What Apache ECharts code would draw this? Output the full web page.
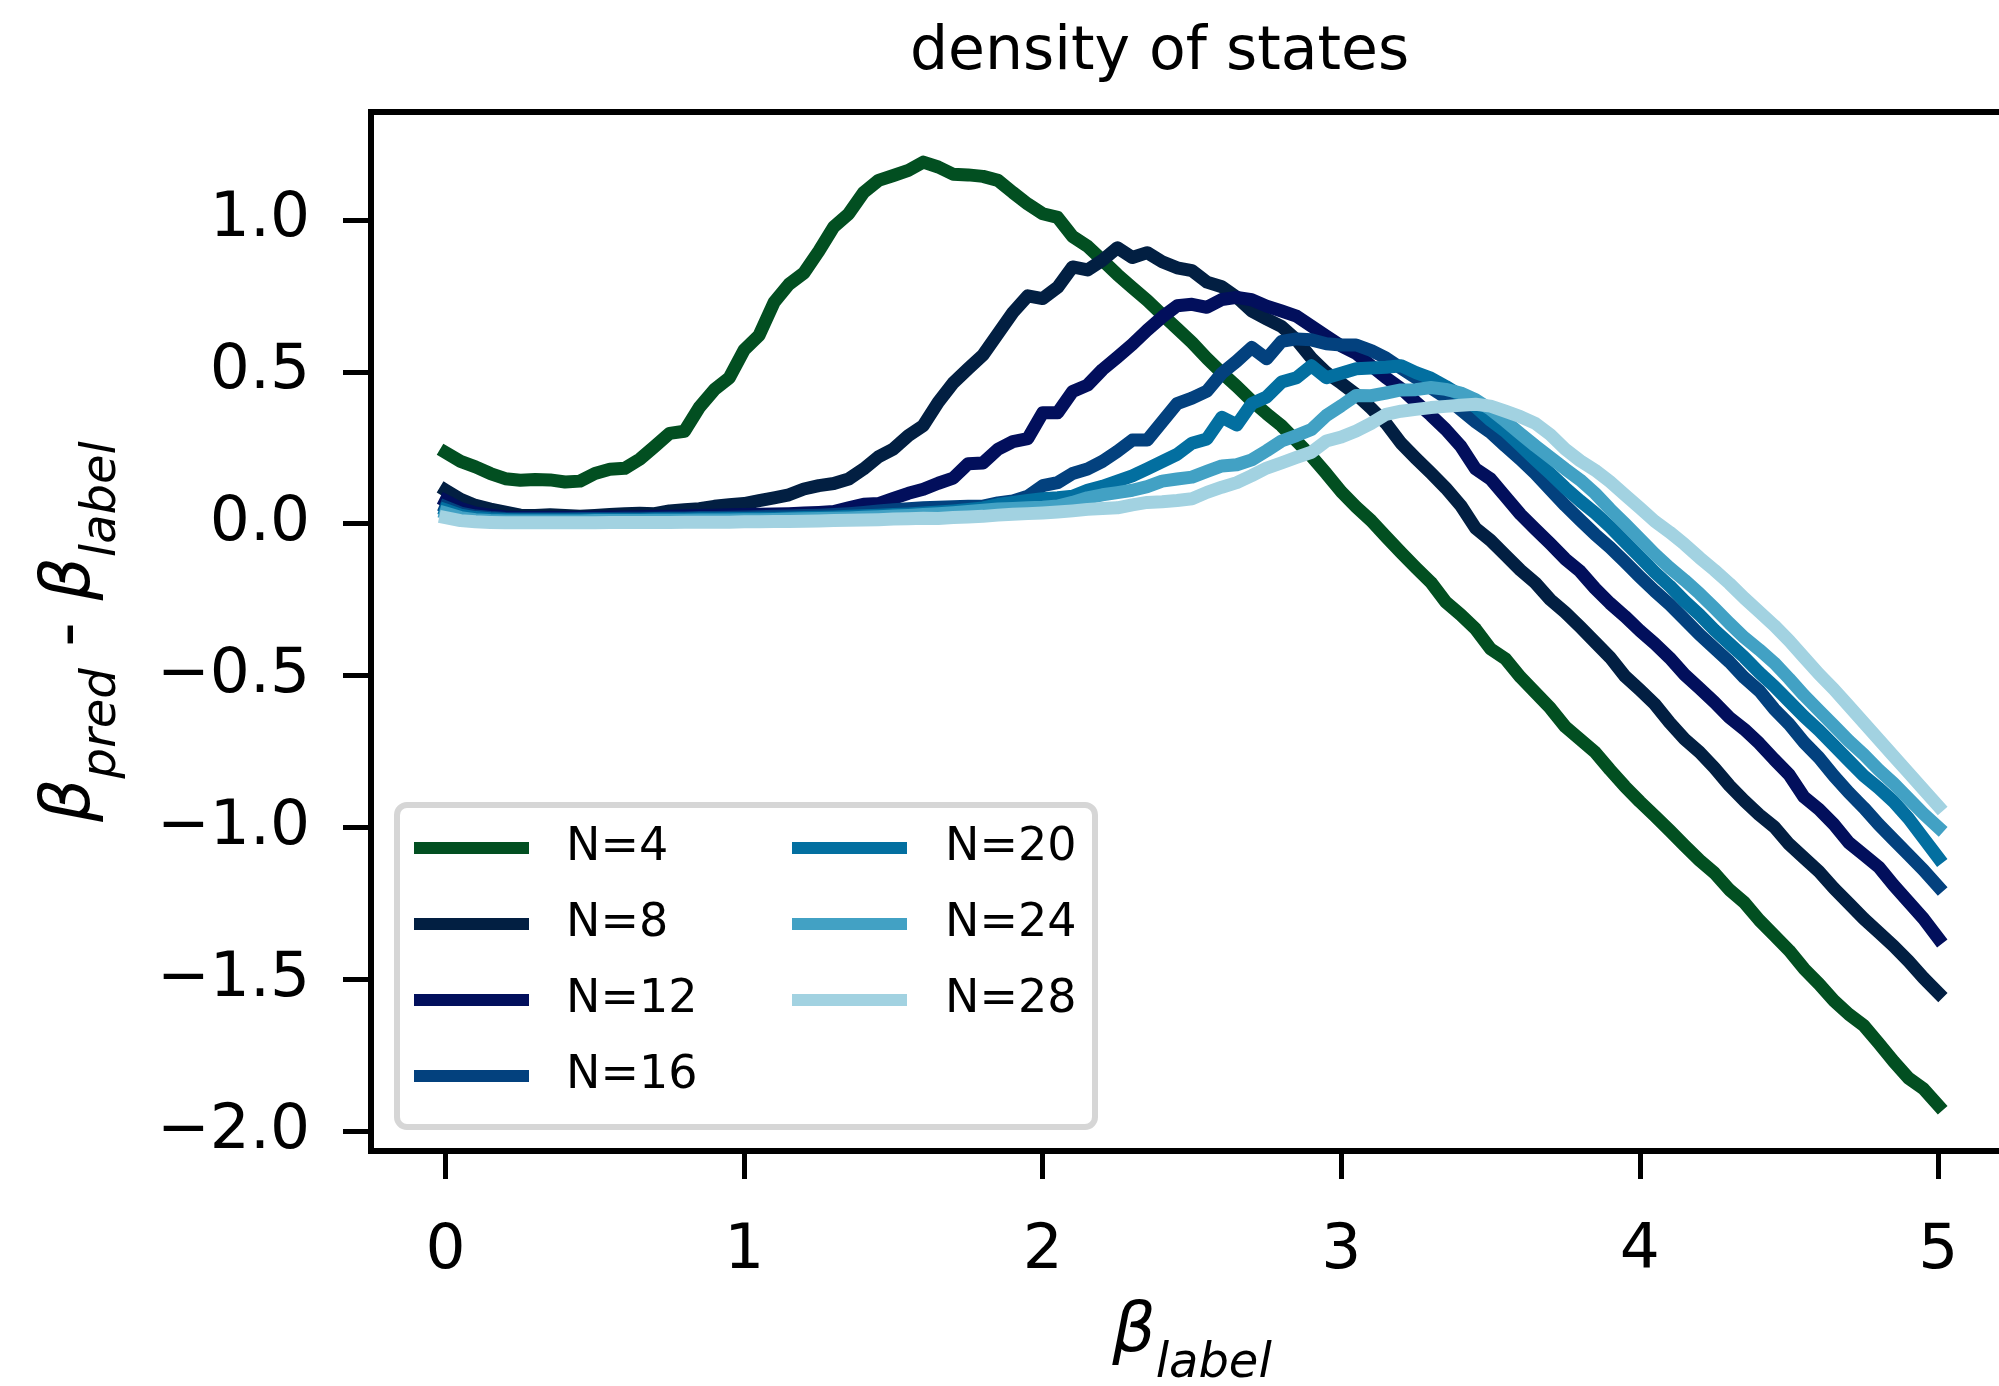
<!DOCTYPE html>
<html>
<head>
<meta charset="utf-8">
<script src="https://cdn.jsdelivr.net/npm/echarts@6/dist/echarts.min.js"></script>
<style>
html,body{margin:0;padding:0;background:#ffffff;}
#chart{width:1999px;height:1386px;}
</style>
</head>
<body>
<div id="chart"></div>
<script>
// ---------------- data ----------------
const betaLabel = [
  0.00,0.05,0.10,0.15,0.20,0.25,0.30,0.35,0.40,0.45,
  0.50,0.55,0.60,0.65,0.70,0.75,0.80,0.85,0.90,0.95,
  1.00,1.05,1.10,1.15,1.20,1.25,1.30,1.35,1.40,1.45,
  1.50,1.55,1.60,1.65,1.70,1.75,1.80,1.85,1.90,1.95,
  2.00,2.05,2.10,2.15,2.20,2.25,2.30,2.35,2.40,2.45,
  2.50,2.55,2.60,2.65,2.70,2.75,2.80,2.85,2.90,2.95,
  3.00,3.05,3.10,3.15,3.20,3.25,3.30,3.35,3.40,3.45,
  3.50,3.55,3.60,3.65,3.70,3.75,3.80,3.85,3.90,3.95,
  4.00,4.05,4.10,4.15,4.20,4.25,4.30,4.35,4.40,4.45,
  4.50,4.55,4.60,4.65,4.70,4.75,4.80,4.85,4.90,4.95,
  5.00
];

const n4 = [
  0.234,0.205,0.187,0.165,0.148,0.143,0.145,0.144,0.137,0.140,
  0.165,0.179,0.182,0.212,0.254,0.297,0.304,0.383,0.441,0.480,
  0.572,0.620,0.728,0.788,0.825,0.897,0.977,1.020,1.090,1.130,
  1.146,1.163,1.190,1.174,1.150,1.148,1.143,1.130,1.090,1.052,
  1.020,1.008,0.945,0.913,0.867,0.820,0.777,0.735,0.688,0.642,
  0.596,0.544,0.496,0.452,0.404,0.362,0.322,0.272,0.222,0.165,
  0.105,0.055,0.010,-0.043,-0.095,-0.145,-0.193,-0.258,-0.300,-0.347,
  -0.412,-0.445,-0.505,-0.556,-0.607,-0.668,-0.710,-0.752,-0.810,-0.865,
  -0.915,-0.962,-1.010,-1.060,-1.108,-1.150,-1.205,-1.247,-1.305,-1.355,
  -1.405,-1.465,-1.515,-1.570,-1.615,-1.652,-1.710,-1.770,-1.825,-1.860,
  -1.915
];

const n8 = [
  0.110,0.080,0.060,0.048,0.038,0.028,0.027,0.029,0.027,0.024,
  0.027,0.030,0.033,0.034,0.033,0.042,0.046,0.049,0.057,0.062,
  0.066,0.076,0.085,0.095,0.114,0.125,0.132,0.147,0.180,0.220,
  0.246,0.290,0.323,0.400,0.463,0.510,0.555,0.625,0.695,0.750,
  0.741,0.778,0.845,0.835,0.867,0.908,0.876,0.892,0.862,0.842,
  0.833,0.795,0.780,0.745,0.700,0.674,0.649,0.605,0.545,0.497,
  0.462,0.425,0.380,0.330,0.265,0.215,0.167,0.117,0.060,-0.015,
  -0.055,-0.104,-0.153,-0.195,-0.250,-0.292,-0.340,-0.390,-0.440,-0.502,
  -0.547,-0.594,-0.655,-0.709,-0.752,-0.804,-0.862,-0.912,-0.958,-0.998,
  -1.055,-1.100,-1.145,-1.200,-1.250,-1.300,-1.345,-1.390,-1.440,-1.495,
  -1.545
];

const n12 = [
  0.075,0.050,0.035,0.028,0.022,0.020,0.020,0.020,0.020,0.020,
  0.021,0.022,0.022,0.023,0.024,0.024,0.026,0.027,0.028,0.029,
  0.030,0.031,0.032,0.033,0.035,0.037,0.040,0.052,0.064,0.066,
  0.083,0.100,0.113,0.133,0.150,0.197,0.200,0.245,0.270,0.280,
  0.365,0.365,0.435,0.456,0.507,0.548,0.590,0.637,0.680,0.717,
  0.722,0.712,0.738,0.745,0.737,0.716,0.700,0.683,0.650,0.617,
  0.585,0.560,0.520,0.480,0.445,0.400,0.357,0.310,0.255,0.180,
  0.147,0.089,0.031,-0.018,-0.066,-0.116,-0.157,-0.213,-0.262,-0.305,
  -0.352,-0.395,-0.442,-0.497,-0.542,-0.588,-0.638,-0.677,-0.723,-0.776,
  -0.826,-0.900,-0.940,-0.990,-1.050,-1.090,-1.130,-1.190,-1.245,-1.300,
  -1.365
];

const n16 = [
  0.055,0.035,0.025,0.020,0.017,0.016,0.016,0.016,0.016,0.017,
  0.017,0.017,0.018,0.018,0.018,0.019,0.019,0.020,0.020,0.021,
  0.022,0.023,0.024,0.025,0.027,0.028,0.030,0.033,0.037,0.042,
  0.046,0.049,0.052,0.054,0.056,0.057,0.058,0.068,0.075,0.090,
  0.125,0.135,0.165,0.180,0.205,0.238,0.275,0.275,0.335,0.395,
  0.413,0.436,0.495,0.535,0.580,0.543,0.600,0.608,0.605,0.592,
  0.588,0.588,0.570,0.545,0.512,0.480,0.447,0.415,0.375,0.335,
  0.300,0.255,0.212,0.165,0.112,0.060,0.012,-0.035,-0.078,-0.126,
  -0.175,-0.222,-0.266,-0.315,-0.365,-0.410,-0.455,-0.507,-0.550,-0.610,
  -0.660,-0.720,-0.770,-0.830,-0.885,-0.935,-0.990,-1.040,-1.090,-1.140,
  -1.195
];

const n20 = [
  0.045,0.028,0.020,0.016,0.014,0.013,0.013,0.013,0.013,0.013,
  0.014,0.014,0.014,0.014,0.015,0.015,0.015,0.016,0.016,0.017,
  0.017,0.018,0.018,0.019,0.020,0.021,0.022,0.024,0.026,0.028,
  0.030,0.032,0.035,0.038,0.042,0.047,0.052,0.063,0.070,0.076,
  0.082,0.085,0.090,0.110,0.123,0.140,0.157,0.180,0.204,0.228,
  0.265,0.279,0.350,0.325,0.395,0.417,0.466,0.480,0.520,0.480,
  0.495,0.510,0.512,0.515,0.520,0.497,0.479,0.452,0.422,0.384,
  0.340,0.303,0.257,0.210,0.165,0.118,0.075,0.035,-0.010,-0.060,
  -0.110,-0.160,-0.205,-0.255,-0.300,-0.350,-0.395,-0.440,-0.490,-0.535,
  -0.585,-0.635,-0.680,-0.730,-0.780,-0.830,-0.870,-0.915,-0.970,-1.035,
  -1.100
];

const n24 = [
  0.035,0.020,0.013,0.010,0.009,0.009,0.009,0.009,0.009,0.009,
  0.010,0.010,0.010,0.010,0.011,0.011,0.011,0.012,0.012,0.012,
  0.013,0.013,0.014,0.015,0.016,0.017,0.018,0.019,0.021,0.023,
  0.025,0.027,0.030,0.033,0.036,0.040,0.044,0.048,0.050,0.052,
  0.054,0.058,0.070,0.085,0.095,0.102,0.110,0.122,0.140,0.147,
  0.153,0.172,0.190,0.194,0.210,0.240,0.272,0.290,0.310,0.356,
  0.388,0.422,0.421,0.430,0.440,0.441,0.448,0.442,0.430,0.408,
  0.376,0.337,0.296,0.256,0.218,0.180,0.144,0.100,0.048,0.000,
  -0.050,-0.100,-0.145,-0.186,-0.230,-0.278,-0.328,-0.375,-0.415,-0.458,
  -0.510,-0.565,-0.615,-0.665,-0.715,-0.760,-0.810,-0.855,-0.905,-0.955,
  -1.000
];

const n28 = [
  0.020,0.010,0.006,0.004,0.003,0.003,0.003,0.003,0.003,0.003,
  0.003,0.004,0.004,0.004,0.004,0.004,0.005,0.005,0.005,0.005,
  0.006,0.006,0.007,0.007,0.008,0.009,0.010,0.011,0.012,0.013,
  0.015,0.016,0.018,0.017,0.020,0.022,0.024,0.028,0.031,0.033,
  0.035,0.038,0.042,0.047,0.050,0.052,0.062,0.070,0.072,0.076,
  0.082,0.103,0.120,0.135,0.158,0.183,0.200,0.218,0.235,0.272,
  0.285,0.305,0.330,0.360,0.370,0.376,0.382,0.386,0.390,0.393,
  0.387,0.370,0.352,0.330,0.293,0.245,0.207,0.176,0.138,0.095,
  0.052,0.008,-0.028,-0.068,-0.112,-0.153,-0.197,-0.245,-0.290,-0.335,
  -0.385,-0.440,-0.495,-0.545,-0.600,-0.655,-0.710,-0.765,-0.820,-0.875,
  -0.930
];

const seriesNames  = ['N=4','N=8','N=12','N=16','N=20','N=24','N=28'];
const seriesColors = ['#024f21','#021f42','#020f5c','#03417e','#036fa0','#42a1c4','#a2d2e1'];
const legendCol1 = ['N=4','N=8','N=12','N=16'];
const legendCol2 = ['N=20','N=24','N=28'];
const xTicks = [0,1,2,3,4,5];
const yTicks = [-2.0,-1.5,-1.0,-0.5,0.0,0.5,1.0];

// ---------------- chart ----------------
const FONT = 'DejaVu Sans';
const allValues = [n4,n8,n12,n16,n20,n24,n28];

const series = seriesNames.map((name, k) => ({
  name: name,
  type: 'line',
  data: betaLabel.map((x, i) => [x, allValues[k][i]]),
  showSymbol: false,
  symbol: 'none',
  color: seriesColors[k],
  lineStyle: { width: 13, color: seriesColors[k], cap: 'square', join: 'round' },
  emphasis: { disabled: true },
  animation: false,
  z: 3
}));

const labelRich = {
  b: { fontFamily: FONT, fontStyle: 'italic', fontSize: 68, lineHeight: 90, verticalAlign: 'top', color: '#000' },
  s: { fontFamily: FONT, fontStyle: 'italic', fontSize: 48, lineHeight: 48, verticalAlign: 'bottom', color: '#000' },
  m: { fontFamily: FONT, fontSize: 68, lineHeight: 90, verticalAlign: 'top', color: '#000' }
};

const legendBase = {
  orient: 'vertical',
  top: 825,
  padding: 0,
  itemGap: 30,
  itemWidth: 115,
  itemHeight: 12,
  icon: 'rect',
  selectedMode: false,
  z: 10,
  textStyle: { fontFamily: FONT, fontSize: 46, color: '#000', padding: [0, 0, 0, 32] }
};

const chart = echarts.init(document.getElementById('chart'), null, { renderer: 'canvas' });
chart.setOption({
  animation: false,
  backgroundColor: '#ffffff',
  title: {
    text: 'density of states',
    left: 910,
    top: 23,
    padding: 0,
    textStyle: { fontFamily: FONT, fontSize: 60, fontWeight: 'normal', color: '#000' }
  },
  grid: {
    left: 371, top: 112, right: -14, bottom: 235,
    show: true, borderColor: '#000', borderWidth: 6,
    backgroundColor: 'rgba(0,0,0,0)',
    containLabel: false,
    outerBoundsMode: 'none'
  },
  xAxis: {
    type: 'value', min: -0.25, max: 5.25,
    position: 'bottom',
    axisLine: { show: false, onZero: false },
    splitLine: { show: false },
    axisTick: { show: true, customValues: xTicks, length: 28, lineStyle: { color: '#000', width: 5 } },
    axisLabel: { customValues: xTicks, margin: 69, fontFamily: FONT, fontSize: 63, color: '#000',
                 formatter: v => String(Math.round(v)) },
    name: '{b|β}{s|label}',
    nameLocation: 'middle',
    nameGap: 148,
    nameTextStyle: { rich: labelRich }
  },
  yAxis: {
    type: 'value', min: -2.065, max: 1.355,
    position: 'left',
    axisLine: { show: false, onZero: false },
    splitLine: { show: false },
    axisTick: { show: true, customValues: yTicks, length: 28, lineStyle: { color: '#000', width: 5 } },
    axisLabel: { customValues: yTicks, margin: 61, fontFamily: FONT, fontSize: 63, color: '#000',
                 formatter: v => (v < -1e-9 ? '\u2212' : '') + Math.abs(v).toFixed(1) },
    name: '{b|β}{s|pred}{m| - }{b|β}{s|label}',
    nameLocation: 'middle',
    nameRotate: 90,
    nameGap: 244,
    nameTextStyle: { rich: labelRich }
  },
  legend: [
    Object.assign({}, legendBase, { left: 414, data: legendCol1 }),
    Object.assign({}, legendBase, { left: 792, data: legendCol2, textStyle: Object.assign({}, legendBase.textStyle, { padding: [0, 0, 0, 33] }) })
  ],
  graphic: [{
    type: 'rect',
    z: 5,
    shape: { x: 397, y: 805, width: 698, height: 322, r: 10 },
    style: { fill: '#ffffff', stroke: '#d6d6d6', lineWidth: 6 }
  }],
  series: series
});
</script>
</body>
</html>
